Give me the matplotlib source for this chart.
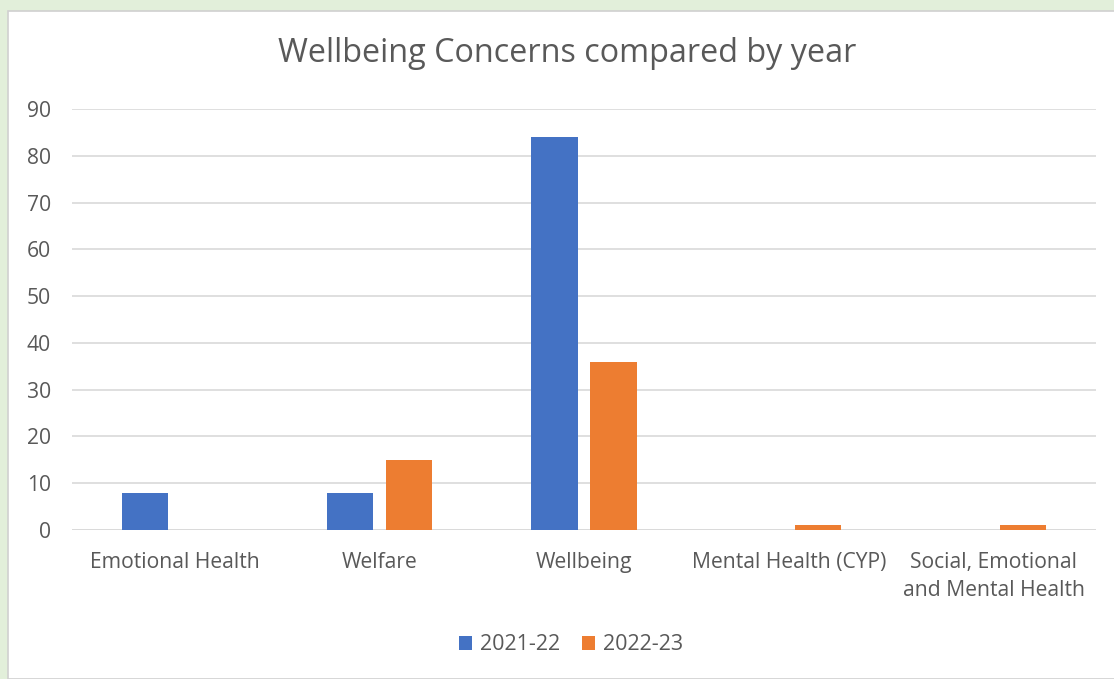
import numpy as np
import matplotlib.pyplot as plt
from matplotlib.patches import Rectangle

#region DATA
categories = ["Emotional Health", "Welfare", "Wellbeing", "Mental Health (CYP)",
              "Social, Emotional\nand Mental Health"]
years = ["2021-22", "2022-23"]
values_2122 = [8, 8, 84, 0, 0]
values_2223 = [0, 15, 36, 1, 1]
#endregion

plt.rcParams['font.family'] = ['Open Sans', 'DejaVu Sans']
textColor = "#595959"

fig = plt.figure(figsize=(11.14, 6.79), dpi=100)
fig.patch.set_facecolor("#E2EFDA")
# white chart panel with a faint grey edge
fig.patches.append(Rectangle((8 / 1114, 0), 1.1, 1 - 11 / 679, transform=fig.transFigure,
                             facecolor="white", edgecolor="#D0D0D0", linewidth=1.2, zorder=-1))

ax = fig.add_axes([72 / 1114, 1 - 530 / 679, 1024 / 1114, 421 / 679])
ax.set_facecolor("none")
ax.set_zorder(2)

x = np.arange(len(categories))
width = 0.225
offset = 0.144
ax.bar(x - offset, values_2122, width, color="#4472C4", label=years[0], zorder=3)
ax.bar(x + offset, values_2223, width, color="#ED7D31", label=years[1], zorder=3)

ax.set_xlim(-0.5, len(categories) - 0.5)
ax.set_ylim(0, 90)
ax.set_yticks(range(0, 91, 10))
ax.yaxis.grid(True, color="#D9D9D9", linewidth=1.2, zorder=0)
for s in ax.spines.values():
    s.set_visible(False)
ax.axhline(0, color="#D9D9D9", linewidth=1.2, zorder=2)
ax.tick_params(axis="both", length=0, colors=textColor, labelsize=15.2)
ax.tick_params(axis="x", pad=16)
ax.tick_params(axis="y", pad=15)
ax.set_xticks(x)
ax.set_xticklabels(categories, linespacing=1.45, va="top")

fig.text(567 / 1114, 1 - 54 / 679, "Wellbeing Concerns compared by year",
         ha="center", va="center", fontsize=23.3, color=textColor)

leg = fig.legend(loc="center", bbox_to_anchor=(571 / 1114, 1 - 645 / 679), ncol=2, frameon=False,
                 fontsize=15.5, handlelength=0.6, handleheight=0.6, handletextpad=0.4, columnspacing=1.0,
                 labelcolor=textColor)

fig.savefig("out.png", dpi=100, facecolor=fig.get_facecolor())
